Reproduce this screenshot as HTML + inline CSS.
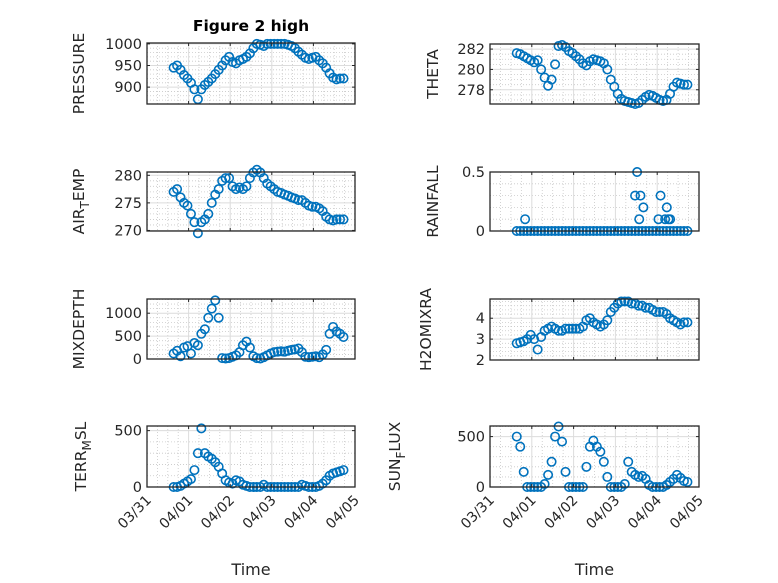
<!DOCTYPE html>
<html><head><meta charset="utf-8">
<style>
html,body{margin:0;padding:0;background:#fff;}
svg{display:block;font-family:"DejaVu Sans","Liberation Sans",sans-serif;}
</style></head>
<body>
<svg id="fig" width="778" height="583" viewBox="0 0 778 583" xmlns="http://www.w3.org/2000/svg">
<rect x="0" y="0" width="778" height="583" fill="#fff"/>
<text x="251" y="31" text-anchor="middle" font-size="15.5" font-weight="bold" fill="#000">Figure 2 high</text>
<g id="panels"></g>
</svg>
<script>
// time axis in days after 03/31 00:00, 2-hour samples
const xTickLabels = ["03/31","04/01","04/02","04/03","04/04","04/05"];
const sampleStart = 0.64;
const sampleStep = 1/12;
const pressureValues = [945,950,940,928,920,910, 895,872,895,905,912,920, 930,940,950,962,970,958, 955,962,965,970,978,990, 1000,998,995,1000,1000,1000, 1000,1000,1000,998,995,990, 982,975,968,965,968,970, 962,955,945,932,922,918, 920,920];
const airTempValues = [277,277.5,276,275,274.5,273, 271.5,269.5,271.5,272,273,275, 276.5,277.5,279,279.5,279.5,278, 277.5,277.8,277.5,278,279.5,280.5, 281,280.5,279.5,278.5,278,277.5, 277,276.8,276.5,276.3,276,275.8, 275.5,275.5,275,274.5,274.3,274.3, 274,273.5,272.5,272,271.8,272, 272,272];
const mixDepthValues = [120,180,60,250,280,120, 350,300,550,650,900,1100, 1280,900,20,10,20,50, 80,150,300,380,250,60, 20,10,40,80,120,150, 160,170,160,180,200,210, 230,150,50,40,50,60, 40,100,200,550,700,600, 550,480];
const terrValues = [0,0,10,30,50,70, 150,300,520,300,270,250, 220,180,120,60,40,30, 60,50,20,10,0,0, 0,0,20,0,0,0, 0,0,0,0,0,0, 0,20,10,0,0,0, 10,30,60,100,120,130, 140,150];
const thetaValues = [281.6,281.5,281.3,281.1,280.9,280.7, 280.9,280,279.2,278.4,279,280.5, 282.3,282.4,282.2,281.8,281.6,281.3, 281,280.6,280.4,280.8,281,280.9, 280.8,280.6,280,279,278.3,277.6, 277.1,276.9,276.8,276.7,276.6,276.7, 277,277.3,277.5,277.4,277.2,277, 276.9,277,277.6,278.3,278.7,278.6, 278.5,278.5];
const rainValues = [0,0,0,0,0,0, 0,0,0,0,0,0, 0,0,0,0,0,0, 0,0,0,0,0,0, 0,0,0,0,0,0, 0,0,0,0,0,0, 0,0,0,0,0,0, 0,0,0,0,0,0, 0,0];
const rainSpikeDays = [0.84,3.47,3.52,3.60,3.67,3.57,4.03,4.08,4.19,4.23,4.27,4.31];
const rainSpikeValues = [0.1,0.3,0.5,0.3,0.2,0.1,0.1,0.3,0.1,0.2,0.1,0.1];
const h2oValues = [2.8,2.85,2.9,3.0,3.2,3.0, 2.5,3.1,3.4,3.5,3.6,3.5, 3.4,3.4,3.5,3.5,3.5,3.5, 3.5,3.6,3.9,4.0,3.8,3.7, 3.6,3.7,3.9,4.3,4.5,4.7, 4.8,4.8,4.8,4.7,4.7,4.6, 4.6,4.5,4.5,4.4,4.3,4.3, 4.3,4.2,4.0,3.9,3.8,3.7, 3.8,3.8];
const sunValues = [500,400,150,0,0,0, 0,0,30,120,250,500, 600,450,150,0,0,0, 0,0,200,400,460,400, 350,250,100,0,0,0, 0,30,250,150,120,100, 110,80,20,0,0,0, 0,20,50,80,120,90, 60,50];
const pressureTicks = [900,950,1000];
const airTicks = [270,275,280];
const mixTicks = [0,500,1000];
const terrTicks = [0,500];
const thetaTicks = [278,280,282];
const rainTicks = [0,0.5];
const h2oTicks = [2,3,4];
const sunTicks = [0,500];

const NS = "http://www.w3.org/2000/svg";
const root = document.getElementById("panels");
function mk(tag, attrs, parent){ const e=document.createElementNS(NS,tag); for(const k in attrs) e.setAttribute(k,attrs[k]); (parent||root).appendChild(e); return e; }

const panels = [
 {key:"pressure", vals:pressureValues, ticks:pressureTicks, ymin:861, ymax:1002, minor:10, L:147,R:355,T:43,B:104, label:["PRESSURE"], lx:84, showX:false},
 {key:"air-temp", vals:airTempValues, ticks:airTicks, ymin:269.9, ymax:280.6, minor:1, L:147,R:355,T:172,B:231, label:["AIR","T","EMP"], lx:84, showX:false},
 {key:"mixdepth", vals:mixDepthValues, ticks:mixTicks, ymin:0, ymax:1310, minor:100, L:147,R:355,T:299,B:359, label:["MIXDEPTH"], lx:84, showX:false},
 {key:"terr-msl", vals:terrValues, ticks:terrTicks, ymin:0, ymax:541, minor:100, L:147,R:355,T:426,B:487, label:["TERR","M","SL"], lx:86, showX:true},
 {key:"theta", vals:thetaValues, ticks:thetaTicks, ymin:276.6, ymax:282.5, minor:0.5, L:490,R:699,T:44,B:104, label:["THETA"], lx:438, showX:false},
 {key:"rainfall", vals:rainValues, ticks:rainTicks, ymin:0, ymax:0.5, minor:0.1, L:490,R:699,T:172,B:231, label:["RAINFALL"], lx:438, showX:false, spikes:true},
 {key:"h2omixra", vals:h2oValues, ticks:h2oTicks, ymin:2, ymax:4.92, minor:0.2, L:490,R:699,T:299,B:360, label:["H2OMIXRA"], lx:431, showX:false},
 {key:"sun-flux", vals:sunValues, ticks:sunTicks, ymin:0, ymax:605, minor:100, L:490,R:699,T:426,B:487, label:["SUN","F","LUX"], lx:400, showX:true}
];

panels.forEach(p=>{
  const g = mk("g",{});
  
  
  const xs = d => p.L + (d/5)*(p.R-p.L);
  const ys = v => p.B - (v-p.ymin)/(p.ymax-p.ymin)*(p.B-p.T);
  mk("rect",{x:p.L,y:p.T,width:p.R-p.L,height:p.B-p.T,fill:"#fff"},g);
  for(let d=0.25; d<5; d+=0.25){ if(Math.abs(d-Math.round(d))<1e-6) continue;
    mk("line",{x1:xs(d),x2:xs(d),y1:p.T,y2:p.B,stroke:"#c8c8c8","stroke-width":0.8,"stroke-dasharray":"1,2"},g); }
  const start = Math.ceil(p.ymin/p.minor)*p.minor;
  for(let v=start; v<=p.ymax+1e-9; v+=p.minor){ if(p.ticks.some(t=>Math.abs(t-v)<1e-6)) continue;
    mk("line",{x1:p.L,x2:p.R,y1:ys(v),y2:ys(v),stroke:"#c8c8c8","stroke-width":0.8,"stroke-dasharray":"1,2"},g); }
  for(let d=1; d<5; d++) mk("line",{x1:xs(d),x2:xs(d),y1:p.T,y2:p.B,stroke:"#dcdcdc","stroke-width":1},g);
  p.ticks.forEach(t=>{ mk("line",{x1:p.L,x2:p.R,y1:ys(t),y2:ys(t),stroke:"#dcdcdc","stroke-width":1},g); });
  const dg = mk("g",{},g);
  
  
  p.vals.forEach((v,i)=>{
    const c = mk("circle",{cx:xs(sampleStart+i*sampleStep),cy:ys(v),r:4.2,fill:"none",stroke:"#0072BD","stroke-width":1.6},dg);
    
    
  });
  if(p.spikes){
    rainSpikeDays.forEach((d,i)=>{
      const c = mk("circle",{cx:xs(d),cy:ys(rainSpikeValues[i]),r:4.2,fill:"none",stroke:"#0072BD","stroke-width":1.6},dg);
      
      
    });
  }
  mk("rect",{x:p.L,y:p.T,width:p.R-p.L,height:p.B-p.T,fill:"none",stroke:"#262626","stroke-width":1.3},g);
  for(let d=0; d<=5; d++){
    mk("line",{x1:xs(d),x2:xs(d),y1:p.B,y2:p.B-3,stroke:"#262626"},g);
    mk("line",{x1:xs(d),x2:xs(d),y1:p.T,y2:p.T+3,stroke:"#262626"},g);
    if(p.showX){
      const ax = xs(d)+5, ay = p.B+14;
      const t = mk("text",{x:ax,y:ay,"text-anchor":"end","font-size":14,fill:"#262626",transform:`rotate(-45 ${ax} ${ay})`},g);
      
      
      t.textContent = xTickLabels[d];
    }
  }
  p.ticks.forEach(tv=>{
    mk("line",{x1:p.L,x2:p.L+3,y1:ys(tv),y2:ys(tv),stroke:"#262626"},g);
    mk("line",{x1:p.R,x2:p.R-3,y1:ys(tv),y2:ys(tv),stroke:"#262626"},g);
    const t = mk("text",{x:p.L-5,y:ys(tv)+5,"text-anchor":"end","font-size":14.5,fill:"#262626"},g);
    
    
    t.textContent = String(tv);
  });
  const cy = (p.T+p.B)/2;
  const yl = mk("text",{x:p.lx,y:cy,"text-anchor":"middle","font-size":15.5,fill:"#262626",transform:`rotate(-90 ${p.lx} ${cy})`},g);
  
  
  if(p.label.length===1){ yl.textContent = p.label[0]; }
  else {
    const a=mk("tspan",{},yl); a.textContent=p.label[0];
    const b=mk("tspan",{dy:5,"font-size":12},yl); b.textContent=p.label[1];
    const c=mk("tspan",{dy:-5},yl); c.textContent=p.label[2];
  }
  if(p.showX){
    const xl = mk("text",{x:(p.L+p.R)/2,y:575,"text-anchor":"middle","font-size":16,fill:"#262626"},g);
    
    
    xl.textContent = "Time";
  }
});
</script>
</body></html>
